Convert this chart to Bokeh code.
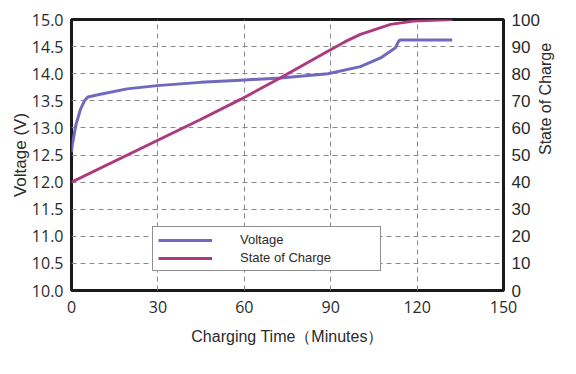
import math
from bokeh.plotting import figure
from bokeh.models import Range1d, LinearAxis, FixedTicker, Legend, LegendItem, NumeralTickFormatter
from bokeh.embed import file_html
from bokeh.resources import INLINE

# Data
t_voltage = [0, 0.2, 1.5, 3.1, 4.5, 5.7, 10, 19.3, 29.7, 44.8, 58.7, 72.6, 89, 100.3, 107.3, 112.5, 113.6, 114, 132.2]
voltage = [12.55, 12.66, 13.05, 13.34, 13.5, 13.57, 13.62, 13.72, 13.78, 13.84, 13.88, 13.92, 14.0, 14.13, 14.29, 14.48, 14.6, 14.62, 14.62]

t_soc = [0, 44.8, 58.7, 72.6, 89, 95, 100.3, 110.8, 118.8, 132.2]
soc = [40, 63.1, 70.5, 78.5, 88.3, 91.8, 94.5, 98.2, 99.4, 100]

x_ticks = [0, 30, 60, 90, 120, 150]
v_ticks = [10.0, 10.5, 11.0, 11.5, 12.0, 12.5, 13.0, 13.5, 14.0, 14.5, 15.0]
soc_ticks = [0, 10, 20, 30, 40, 50, 60, 70, 80, 90, 100]

V_COLOR = "#7169bd"
S_COLOR = "#ad3a80"
TXT = "#2b2b2b"

p = figure(
    frame_width=432, frame_height=271,
    min_border_left=71, min_border_right=57, min_border_top=19, min_border_bottom=68,
    x_range=Range1d(0, 150), y_range=Range1d(10, 15),
    output_backend="svg", toolbar_location=None,
)
p.extra_y_ranges = {"soc": Range1d(0, 100)}

p.outline_line_color = "#1a1a1a"
p.outline_line_width = 3
p.background_fill_color = "white"
p.border_fill_color = "white"

# grids
for g in (p.xgrid, p.ygrid):
    g.grid_line_color = "#8a8a8a"
    g.grid_line_dash = "5 4"
    g.grid_line_width = 1
p.xgrid.ticker = FixedTicker(ticks=x_ticks)
p.ygrid.ticker = FixedTicker(ticks=v_ticks)

# x axis
xa = p.xaxis[0]
xa.ticker = FixedTicker(ticks=x_ticks)
xa.axis_label = "Charging Time（Minutes）"
xa.axis_label_text_font = "Liberation Sans"
xa.axis_label_text_font_size = "16px"
xa.axis_label_text_font_style = "normal"
xa.axis_label_text_color = TXT
xa.axis_label_standoff = 12
xa.major_label_text_font = "Open Sans"
xa.major_label_text_font_size = "16px"
xa.major_label_text_color = TXT
xa.major_label_standoff = 10

# left axis
ya = p.yaxis[0]
ya.ticker = FixedTicker(ticks=v_ticks)
ya.formatter = NumeralTickFormatter(format="0.0")
ya.axis_label = "Voltage (V)"
ya.axis_label_text_font = "Liberation Sans"
ya.axis_label_text_font_size = "17px"
ya.axis_label_text_font_style = "normal"
ya.axis_label_text_color = TXT
ya.axis_label_standoff = -1
ya.major_label_text_font = "Open Sans"
ya.major_label_text_font_size = "16px"
ya.major_label_text_color = TXT
ya.major_label_standoff = 8

# right axis
ra = LinearAxis(y_range_name="soc", ticker=FixedTicker(ticks=soc_ticks))
ra.axis_label = "State of Charge"
ra.axis_label_text_font = "Liberation Sans"
ra.axis_label_text_font_size = "16px"
ra.axis_label_text_font_style = "normal"
ra.axis_label_text_color = TXT
ra.axis_label_standoff = 3
ra.axis_label_orientation = math.pi / 2
ra.major_label_text_font = "Liberation Sans"
ra.major_label_text_font_size = "17px"
ra.major_label_text_color = TXT
ra.major_label_standoff = 8
p.add_layout(ra, "right")

for ax in (xa, ya, ra):
    ax.axis_line_color = None
    ax.major_tick_line_color = None
    ax.minor_tick_line_color = None
    ax.major_tick_in = 0
    ax.major_tick_out = 0

rv = p.line(t_voltage, voltage, line_color=V_COLOR, line_width=3)
rs = p.line(t_soc, soc, y_range_name="soc", line_color=S_COLOR, line_width=3)

legend = Legend(
    items=[LegendItem(label="Voltage", renderers=[rv]),
           LegendItem(label="State of Charge", renderers=[rs])],
    location=(81, 19),
    padding=5, margin=0, spacing=3,
    glyph_width=54, glyph_height=14, label_height=14, label_width=135,
    label_standoff=28,
    label_text_font="Liberation Sans", label_text_font_size="13px", label_text_color=TXT,
    border_line_color="#222222", border_line_width=1,
    background_fill_color="white", background_fill_alpha=1.0,
)
p.add_layout(legend)

open("out.html", "w").write(file_html(p, INLINE))
